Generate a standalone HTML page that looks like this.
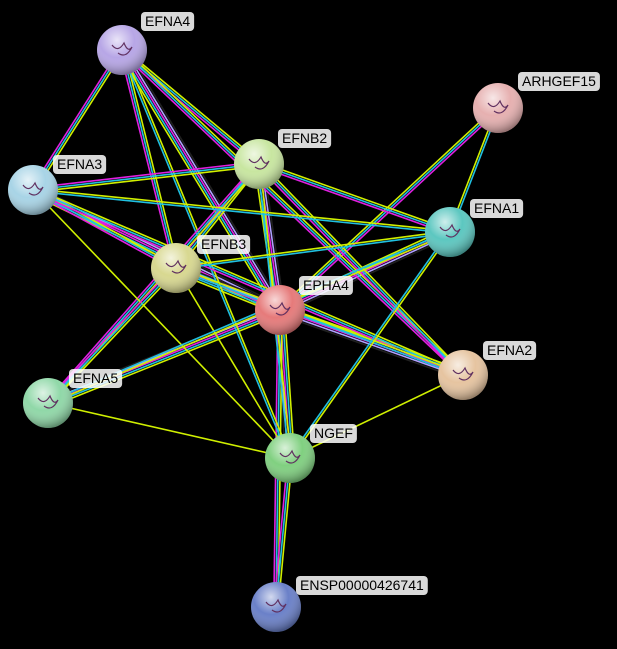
<!DOCTYPE html>
<html><head><meta charset="utf-8"><style>
html,body{margin:0;padding:0;background:#000;width:617px;height:649px;overflow:hidden}
svg{display:block}
text{font-family:"Liberation Sans",sans-serif;font-size:14px;fill:#000}
</style></head><body>
<svg id="s" width="617" height="649" viewBox="0 0 617 649">
<defs>
<radialGradient id="g" cx="40%" cy="30%" r="70%">
<stop offset="0" stop-color="#fff" stop-opacity="0.7"/>
<stop offset="0.5" stop-color="#fff" stop-opacity="0"/>
<stop offset="1" stop-color="#000" stop-opacity="0.35"/>
</radialGradient>
</defs>
<g id="edges"></g><g id="nodes"></g>
</svg>
<script>
const N={
EFNA4:[122,50,'#b7a6e6',[145,21]],
ARHGEF15:[498,108,'#e6b0b0',[522,81]],
EFNB2:[259,164,'#c8e6a0',[282,138]],
EFNA3:[33,190,'#a8d4e6',[57,164]],
EFNA1:[450,232,'#5cc7c0',[474,208]],
EFNB3:[176,268,'#d8d890',[201,244]],
EPHA4:[280,310,'#e67a7a',[303,285]],
EFNA2:[463,375,'#e6c4a0',[487,350]],
EFNA5:[48,403,'#90d8a8',[73,378]],
NGEF:[290,458,'#80d080',[314,433]],
ENSP00000426741:[276,607,'#6a80c8',[300,585]]
};
const E=[
['EPHA4','EFNA4',5],['EPHA4','EFNB2',5],['EPHA4','EFNA3',5],['EPHA4','EFNB3',5],['EPHA4','EFNA1',5],['EPHA4','ARHGEF15',3],['EPHA4','EFNA2',5],['EPHA4','EFNA5',5],['EPHA4','NGEF',5],['EPHA4','ENSP00000426741',3],
['EFNA4','EFNB2',3],['EFNA4','EFNA3',3],['EFNA4','EFNB3',3],['EFNA4','NGEF',2],['EFNA4','EFNA2',3],
['EFNB2','EFNA3',3],['EFNB2','EFNB3',3],['EFNB2','EFNA1',3],['EFNB2','EFNA2',3],['EFNB2','EFNA5',3],['EFNB2','NGEF',2],
['EFNA3','EFNB3',3],['EFNA3','EFNA1',2],['EFNA3','EFNA2',3],['EFNA3','NGEF',1],
['EFNB3','EFNA1',2],['EFNB3','EFNA5',3],['EFNB3','NGEF',1],['EFNB3','EFNA2',2],
['EFNA1','NGEF',2],['EFNA1','ARHGEF15',2],['EFNA1','EFNA5',2],
['EFNA2','NGEF',1],['EFNA5','NGEF',1],['NGEF','ENSP00000426741',3]
];
const cols=['#d0f000','#20c0e0','#e020e0','#b0a0ff','#202020'];
const ns='http://www.w3.org/2000/svg';
const eg=document.getElementById('edges'),ng=document.getElementById('nodes');
for(const [a,b,k] of E){
 const [x1,y1]=N[a],[x2,y2]=N[b];
 const dx=x2-x1,dy=y2-y1,L=Math.hypot(dx,dy),px=-dy/L,py=dx/L;
 for(let i=0;i<k;i++){
  const o=(i-(k-1)/2)*2.2;
  const l=document.createElementNS(ns,'line');
  l.setAttribute('x1',x1+px*o);l.setAttribute('y1',y1+py*o);
  l.setAttribute('x2',x2+px*o);l.setAttribute('y2',y2+py*o);
  l.setAttribute('stroke',cols[i%cols.length]);l.setAttribute('stroke-width','1.6');
  eg.appendChild(l);
 }
}
for(const n in N){
 const [x,y,c,[lx,ly]]=N[n];
 let e=document.createElementNS(ns,'circle');
 e.setAttribute('cx',x);e.setAttribute('cy',y);e.setAttribute('r',25);e.setAttribute('fill',c);
 ng.appendChild(e);
 e=document.createElementNS(ns,'circle');
 e.setAttribute('cx',x);e.setAttribute('cy',y);e.setAttribute('r',25);e.setAttribute('fill','url(#g)');
 ng.appendChild(e);
 e=document.createElementNS(ns,'path');
 e.setAttribute('d',`M${x-10} ${y-5} q6 8 12 -2 q4 10 8 4 q-6 12 -14 6`);
 e.setAttribute('stroke','#603060');e.setAttribute('fill','none');e.setAttribute('stroke-width','1.2');
 ng.appendChild(e);
 const r=document.createElementNS(ns,'rect');
 ng.appendChild(r);
 const t=document.createElementNS(ns,'text');
 t.setAttribute('x',lx);t.setAttribute('y',ly+5);t.textContent=n;
 ng.appendChild(t);
 const w=t.getComputedTextLength()+8;
 r.setAttribute('x',lx-4);r.setAttribute('y',ly-9);r.setAttribute('width',w);r.setAttribute('height',19);
 r.setAttribute('rx',4);r.setAttribute('fill','rgba(255,255,255,0.85)');
}
</script>
</body></html>
